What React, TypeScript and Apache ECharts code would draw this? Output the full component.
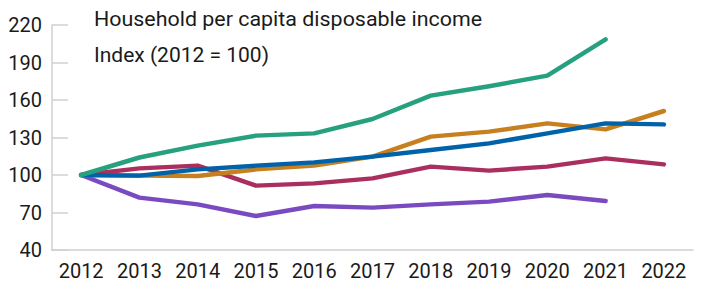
import React, { useEffect, useRef } from "react";
import * as echarts from "echarts";

const years = ["2012", "2013", "2014", "2015", "2016", "2017", "2018", "2019", "2020", "2021", "2022"];
const greenSeries = [100, 114, 123.5, 131.5, 133.3, 144.8, 163.5, 171, 179.5, 208.5, null];
const orangeSeries = [100, 99.5, 99.2, 104.5, 107.5, 114.7, 130.7, 134.7, 141.3, 136.5, 151.2];
const blueSeries = [100, 99.5, 104.5, 107.5, 110.1, 114.7, 120, 125.3, 133.3, 141.3, 140.5];
const crimsonSeries = [100, 105.3, 107.5, 91.5, 93.3, 97.3, 106.7, 103.5, 106.7, 113.3, 108.5];
const purpleSeries = [100, 81.9, 76.5, 67.2, 75.2, 73.9, 76.5, 78.7, 84, 79.2, null];
const titleLine1 = "Household per capita disposable income";
const titleLine2 = "Index (2012 = 100)";

export default function App() {
  const ref = useRef<HTMLDivElement>(null);
  useEffect(() => {
    const chart = echarts.init(ref.current!, undefined, { renderer: "svg" });
    const mk = (data: (number | null)[], color: string) => ({
      type: "line",
      data,
      symbol: "none",
      lineStyle: { color, width: 4.5, cap: "round", join: "round" },
      itemStyle: { color },
    });
    chart.setOption({
      animation: false,
      grid: { left: 52, right: 12, top: 25, bottom: 35 },
      xAxis: {
        type: "category",
        data: years,
        axisLine: { lineStyle: { color: "#d0d0d0", width: 1.5 } },
        axisTick: { show: false },
        axisLabel: { color: "#1a1a1a", fontSize: 20, fontFamily: "Roboto", margin: 11, interval: 0 },
      },
      yAxis: {
        type: "value",
        min: 40,
        max: 220,
        interval: 30,
        axisLine: { show: true, lineStyle: { color: "#d0d0d0", width: 1.5 } },
        axisTick: { show: true, inside: true, length: 16, lineStyle: { color: "#d0d0d0", width: 1.5 } },
        splitLine: { show: false },
        axisLabel: { color: "#1a1a1a", fontSize: 20, fontFamily: "Roboto", margin: 10 },
      },
      graphic: [
        { type: "text", x: 94, y: 8, scaleX: 1.02, style: { text: titleLine1, fontSize: 21, fontFamily: "Roboto", fill: "#1a1a1a" } },
        { type: "text", x: 94, y: 44, style: { text: titleLine2, fontSize: 21, fontFamily: "Roboto", fill: "#1a1a1a" } },
      ],
      series: [
        mk(purpleSeries, "#7a4bc0"),
        mk(crimsonSeries, "#ab2f5e"),
        mk(orangeSeries, "#c7801f"),
        mk(blueSeries, "#0063a9"),
        mk(greenSeries, "#27a07f"),
      ],
    });
    return () => chart.dispose();
  }, []);
  return <div ref={ref} style={{ width: 705, height: 285, position: "absolute", left: 0, top: 0 }} />;
}
